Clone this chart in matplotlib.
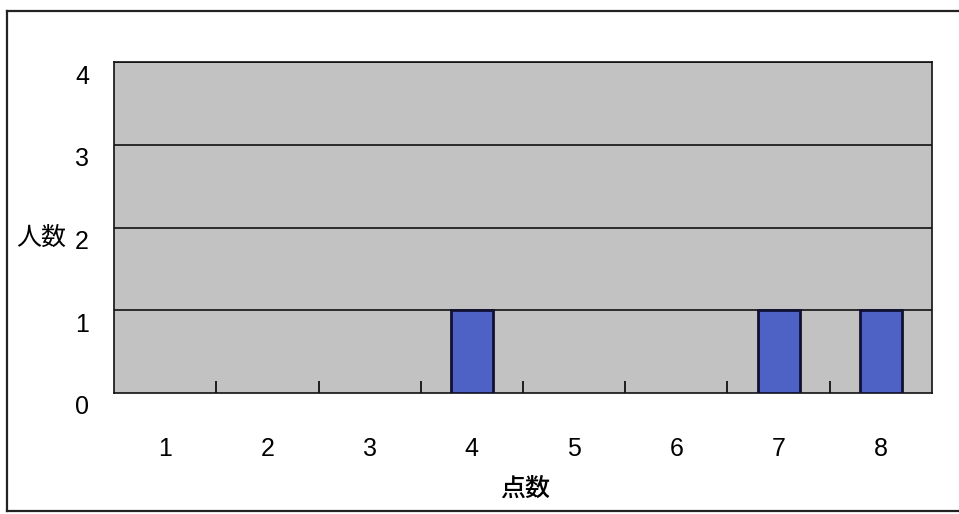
import matplotlib.pyplot as plt
import matplotlib.transforms as mtransforms
from matplotlib.lines import Line2D

plt.rcParams['font.family'] = ['Liberation Sans', 'Noto Sans CJK JP', 'DejaVu Sans']

# scores and number of people
scores = ['1', '2', '3', '4', '5', '6', '7', '8']
counts = [0, 0, 0, 1, 0, 0, 1, 1]
y_ticks = [0, 1, 2, 3, 4]

W, H = 959, 514
fig = plt.figure(figsize=(W / 100, H / 100), dpi=100)
fig.patch.set_facecolor('white')

# frame round the whole chart
fig.add_artist(Line2D([7 / W, 7 / W], [3 / H, 1 - 11 / H], color='#222222', lw=1.6))
fig.add_artist(Line2D([7 / W, 1.0], [1 - 11 / H, 1 - 11 / H], color='#222222', lw=1.6))
fig.add_artist(Line2D([7 / W, 1.0], [3 / H, 3 / H], color='#222222', lw=1.6))

ax = fig.add_axes([114 / W, 1 - 393 / H, (932 - 114) / W, (393 - 62) / H])
ax.set_facecolor('#c2c2c2')

x = list(range(len(scores)))
bars = ax.bar(x, counts, width=0.41, color='#4d62c4', edgecolor='#111133', linewidth=2, zorder=3)
for b, c in zip(bars, counts):
    if c == 0:
        b.set_visible(False)

ax.set_xlim(-0.5, len(scores) - 0.5)
ax.set_ylim(0, 4)
ax.set_yticks(y_ticks)
ax.set_yticklabels([str(v) for v in y_ticks], fontsize=18)
ax.tick_params(axis='y', length=0, pad=18)

for v in y_ticks[1:]:
    ax.axhline(v, color='#111111', lw=1.2, zorder=2)

ax.set_xticks(x)
ax.set_xticklabels(scores, fontsize=18)
ax.tick_params(axis='x', which='major', length=0, pad=32)
ax.set_xticks([i + 0.5 for i in x[:-1]], minor=True)
ax.tick_params(axis='x', which='minor', direction='in', length=9, width=1.3, color='#111111')

for s in ax.spines.values():
    s.set_color('#111111')
    s.set_linewidth(1.2)

# y tick numbers sit a little below their grid lines
offset = mtransforms.ScaledTranslation(0, -12 / 100, fig.dpi_scale_trans)
for lbl in ax.get_yticklabels():
    lbl.set_transform(lbl.get_transform() + offset)

fig.text(41 / W, 1 - 238 / H, '人数', fontsize=18, ha='center', va='center',
         family=['Noto Sans CJK JP'])
fig.text(525 / W, 1 - 489 / H, '点数', fontsize=18, ha='center', va='center',
         family=['Noto Sans CJK JP'], weight='medium')

fig.savefig('out.png', dpi=100)
